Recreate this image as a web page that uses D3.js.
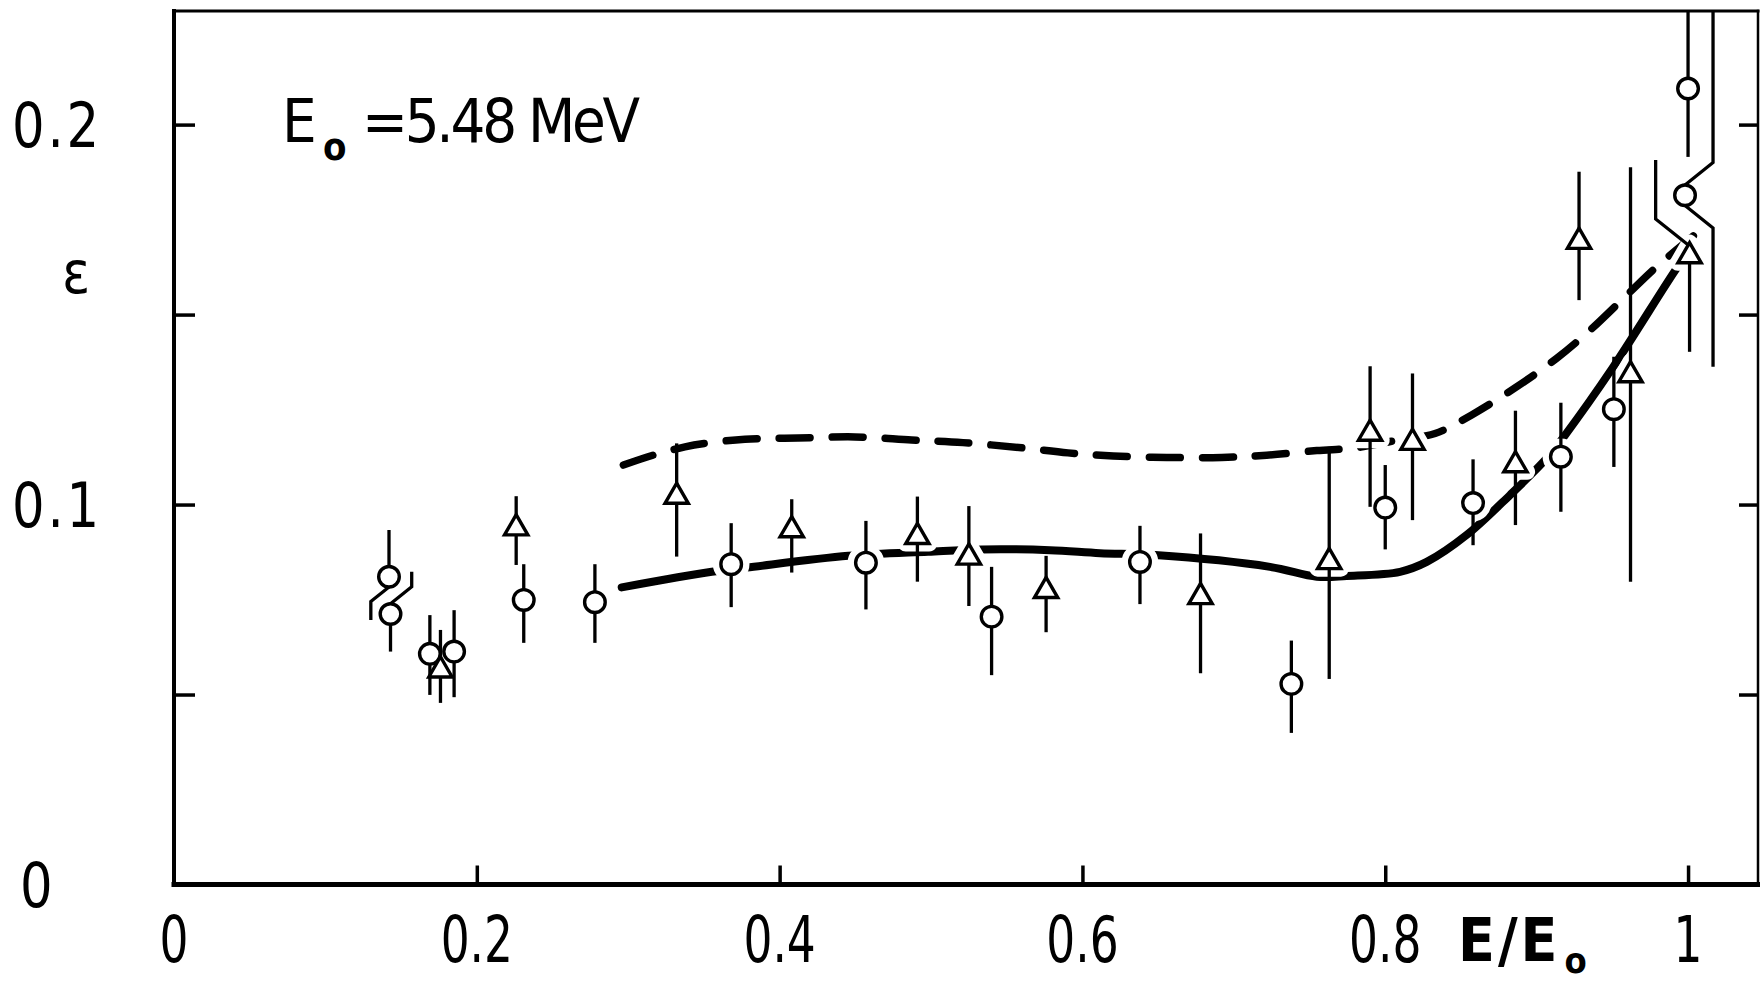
<!DOCTYPE html>
<html><head><meta charset="utf-8">
<script src="https://cdn.jsdelivr.net/npm/d3@7"></script>
<style>
html,body{margin:0;padding:0;background:#fff;}
svg{display:block;background:#fff;}
text{font-family:"DejaVu Sans Condensed","DejaVu Sans",sans-serif;fill:#000;}
</style></head><body>
<svg id="chart" width="1760" height="983"></svg>
<script>
// ---------- data ----------
const xTickValues = [0.2, 0.4, 0.6, 0.8, 1.0];
const xLabelValues = [0, 0.2, 0.4, 0.6, 0.8, 1.0];
const xTickLabels = ["0", "0.2", "0.4", "0.6", "0.8", "1"];
const yTickValues = [0.05, 0.1, 0.15, 0.2];
const yLabelValues = [0, 0.1, 0.2];
const yTickLabels = ["0", "0.1", "0.2"];

// open circles: E/E0, epsilon, error-bar low, error-bar high
const circleE    = [0.142, 0.143, 0.169, 0.185, 0.231, 0.278, 0.368, 0.457, 0.540, 0.638, 0.738, 0.800, 0.858, 0.916, 0.951, 0.998, 1.000];
const circleEps  = [0.0810, 0.0712, 0.0607, 0.0613, 0.0749, 0.0743, 0.0843, 0.0847, 0.0705, 0.0849, 0.0528, 0.0992, 0.1004, 0.1126, 0.1251, 0.1814, 0.2095];
const circleLow  = [0.0696, 0.0613, 0.0499, 0.0493, 0.0636, 0.0636, 0.0730, 0.0724, 0.0551, 0.0738, 0.0399, 0.0882, 0.0893, 0.0981, 0.1099, 0.1363, 0.1915];
const circleHigh = [0.0933, 0.0823, 0.0709, 0.0722, 0.0843, 0.0843, 0.0951, 0.0957, 0.0836, 0.0944, 0.0642, 0.1104, 0.1119, 0.1268, 0.1389, 0.2300, 0.2300];
// sideways offsets of bent error bars (in E/E0)
const circleJogLow  = [-0.012, 0, 0, 0, 0, 0, 0, 0, 0, 0, 0, 0, 0, 0, 0, 0.0185, 0];
const circleJogHigh = [0, 0.014, 0, 0, 0, 0, 0, 0, 0, 0, 0, 0, 0, 0, 0, 0.0185, 0];

// open triangles
const triE    = [0.176, 0.226, 0.332, 0.408, 0.491, 0.525, 0.576, 0.678, 0.763, 0.790, 0.818, 0.886, 0.928, 0.962, 1.001];
const triEps  = [0.0564, 0.0938, 0.1021, 0.0933, 0.0915, 0.0861, 0.0773, 0.0757, 0.0849, 0.1187, 0.1163, 0.1104, 0.1692, 0.1341, 0.1654];
const triLow  = [0.0478, 0.0841, 0.0863, 0.0821, 0.0797, 0.0733, 0.0664, 0.0556, 0.0541, 0.0994, 0.0959, 0.0946, 0.1538, 0.0797, 0.1402];
const triHigh = [0.0670, 0.1022, 0.1161, 0.1014, 0.1021, 0.0996, 0.0865, 0.0924, 0.1152, 0.1364, 0.1345, 0.1247, 0.1876, 0.1888, 0.1907];
const triJogLow  = [0, 0, 0, 0, 0, 0, 0, 0, 0, 0, 0, 0, 0, 0, 0];
const triJogHigh = [0, 0, 0, 0, 0, 0, 0, 0, 0, 0, 0, 0, 0, 0, -0.0224];

// solid curve
const solidE   = [0.2957, 0.3552, 0.3783, 0.4454, 0.4980, 0.5335, 0.5786, 0.6116, 0.6480, 0.7239, 0.7548, 0.7746, 0.8098, 0.8274, 0.8538, 0.8824, 0.9067, 0.9188, 0.9507, 0.9925, 1.0000];
const solidEps = [0.0782, 0.0823, 0.0834, 0.0865, 0.0876, 0.0882, 0.0880, 0.0872, 0.0867, 0.0836, 0.0810, 0.0812, 0.0823, 0.0849, 0.0920, 0.1025, 0.1122, 0.1183, 0.1363, 0.1622, 0.1662];

// dashed curve
const dashedE   = [0.2968, 0.3164, 0.3375, 0.3527, 0.3771, 0.4121, 0.4498, 0.4872, 0.5211, 0.5608, 0.5905, 0.6204, 0.6557, 0.6920, 0.7217, 0.7548, 0.7801, 0.8087, 0.8329, 0.8571, 0.8857, 0.9133, 0.9353, 0.9595, 0.9793, 1.0057];
const dashedEps = [0.1104, 0.1130, 0.1152, 0.1162, 0.1172, 0.1175, 0.1178, 0.1170, 0.1163, 0.1149, 0.1136, 0.1128, 0.1124, 0.1124, 0.1130, 0.1142, 0.1149, 0.1170, 0.1187, 0.1236, 0.1307, 0.1385, 0.1459, 0.1551, 0.1626, 0.1714];

const annotationMain = "=5.48 MeV";
const yTitle = "\u03b5";

// ---------- drawing ----------
const svg = d3.select("#chart");
const x = d3.scaleLinear().domain([0, 1.0462]).range([174, 1758]);
const y = d3.scaleLinear().domain([0, 0.2299]).range([884.5, 11]);

const circles = circleE.map((e, i) => ({e, v: circleEps[i], lo: circleLow[i], hi: circleHigh[i], jl: circleJogLow[i], jh: circleJogHigh[i], r: 10.3}));
const tris = triE.map((e, i) => ({e, v: triEps[i], lo: triLow[i], hi: triHigh[i], jl: triJogLow[i], jh: triJogHigh[i], r: 10}));

const lineGen = d3.line().x(d => x(d[0])).y(d => y(d[1])).curve(d3.curveCatmullRom.alpha(0.5));

const gCurves = svg.append("g");
gCurves.append("path")
  .attr("d", lineGen(solidE.map((e, i) => [e, solidEps[i]])))
  .attr("fill", "none").attr("stroke", "#000").attr("stroke-width", 8).attr("stroke-linecap", "round");
gCurves.append("path")
  .attr("d", lineGen(dashedE.map((e, i) => [e, dashedEps[i]])))
  .attr("fill", "none").attr("stroke", "#000").attr("stroke-width", 7.5)
  .attr("stroke-linecap", "round").attr("stroke-dasharray", "31 22");

const triSym = d3.symbol().type(d3.symbolTriangle).size(235);

// halos cut the curves around markers
const gHalo = svg.append("g");
gHalo.selectAll("circle").data(circles).join("circle")
  .attr("cx", d => x(d.e)).attr("cy", d => y(d.v)).attr("r", d => d.r)
  .attr("fill", "#fff").attr("stroke", "#fff").attr("stroke-width", 16);
gHalo.selectAll("path").data(tris).join("path")
  .attr("d", triSym).attr("transform", d => `translate(${x(d.e)},${y(d.v)})`)
  .attr("fill", "#fff").attr("stroke", "#fff").attr("stroke-width", 16).attr("stroke-linejoin", "round");

// error bars
function barPath(d, end, jog) {
  const cx = x(d.e), cy = y(d.v), ey = y(end);
  const dir = ey < cy ? -1 : 1;
  if (!jog) return `M${cx},${cy}L${cx},${ey}`;
  const jx = x(d.e + jog);
  const dx = Math.abs(jx - cx);
  const y1 = cy + dir * d.r;
  const y2 = y1 + dir * dx * 0.8;
  return `M${cx},${cy}L${cx},${y1}L${jx},${y2}L${jx},${ey}`;
}
const gBars = svg.append("g").attr("fill", "none").attr("stroke", "#000").attr("stroke-width", 3.3);
[...circles, ...tris].forEach(d => {
  gBars.append("path").attr("d", barPath(d, d.hi, d.jh));
  gBars.append("path").attr("d", barPath(d, d.lo, d.jl));
});

// markers
const gMarks = svg.append("g");
gMarks.selectAll("circle").data(circles).join("circle")
  .attr("cx", d => x(d.e)).attr("cy", d => y(d.v)).attr("r", d => d.r)
  .attr("fill", "#fff").attr("stroke", "#000").attr("stroke-width", 3.4);
gMarks.selectAll("path").data(tris).join("path")
  .attr("d", triSym).attr("transform", d => `translate(${x(d.e)},${y(d.v)})`)
  .attr("fill", "#fff").attr("stroke", "#000").attr("stroke-width", 3.4).attr("stroke-linejoin", "miter");

// frame
const [x0, x1] = x.range(), [y0, y1] = y.range();
const gFrame = svg.append("g").attr("stroke", "#000").attr("stroke-linecap", "square");
gFrame.append("line").attr("x1", x0).attr("y1", y1).attr("x2", x1).attr("y2", y1).attr("stroke-width", 3);
gFrame.append("line").attr("x1", x1).attr("y1", y1).attr("x2", x1).attr("y2", y0).attr("stroke-width", 2.5);
gFrame.append("line").attr("x1", x0).attr("y1", y1).attr("x2", x0).attr("y2", y0).attr("stroke-width", 4);
gFrame.append("line").attr("x1", x0).attr("y1", y0).attr("x2", x1).attr("y2", y0).attr("stroke-width", 5);

// ticks via d3 axes (inward)
const axB = svg.append("g").attr("transform", `translate(0,${y0})`)
  .call(d3.axisBottom(x).tickValues(xTickValues).tickSize(-19).tickFormat(""));
const axL = svg.append("g").attr("transform", `translate(${x0},0)`)
  .call(d3.axisLeft(y).tickValues(yTickValues).tickSize(-21).tickFormat(""));
const axR = svg.append("g").attr("transform", `translate(${x1},0)`)
  .call(d3.axisRight(y).tickValues(yTickValues).tickSize(-19).tickFormat(""));
[axB, axL, axR].forEach(g => {
  g.select(".domain").remove();
  g.selectAll(".tick line").attr("stroke", "#000").attr("stroke-width", 3.5);
});

// tick labels
svg.append("g").selectAll("text").data(xLabelValues).join("text")
  .attr("transform", d => `translate(${x(d)},962) scale(0.79,1)`)
  .attr("text-anchor", "middle").attr("font-size", 64)
  .text((d, i) => xTickLabels[i]);
svg.append("g").selectAll("text").data(yLabelValues).join("text")
  .attr("transform", d => `translate(${d === 0 ? 20 : 12},${y(d) + 22}) scale(0.92,1)`)
  .attr("text-anchor", "start").attr("font-size", 62).attr("letter-spacing", d => d === 0 ? 0 : 3)
  .text((d, i) => yTickLabels[i]);

// axis titles
svg.append("text").attr("x", 76).attr("y", 293).attr("text-anchor", "middle")
  .attr("font-size", 58).text(yTitle);
const xt = svg.append("text").attr("x", 1458).attr("y", 961)
  .attr("font-size", 60).attr("font-weight", "bold").attr("letter-spacing", 3);
xt.append("tspan").text("E/E");
xt.append("tspan").attr("font-size", 36).attr("dy", 12).attr("dx", 4).text("o");

// annotation
svg.append("text").attr("x", 282).attr("y", 142).attr("font-size", 61).text("E");
svg.append("text").attr("x", 323).attr("y", 160).attr("font-size", 38).attr("font-weight", "bold").text("o");
svg.append("text").attr("x", 362).attr("y", 142).attr("font-size", 61)
  .attr("textLength", 278).attr("lengthAdjust", "spacing").text(annotationMain);
</script>
</body></html>
